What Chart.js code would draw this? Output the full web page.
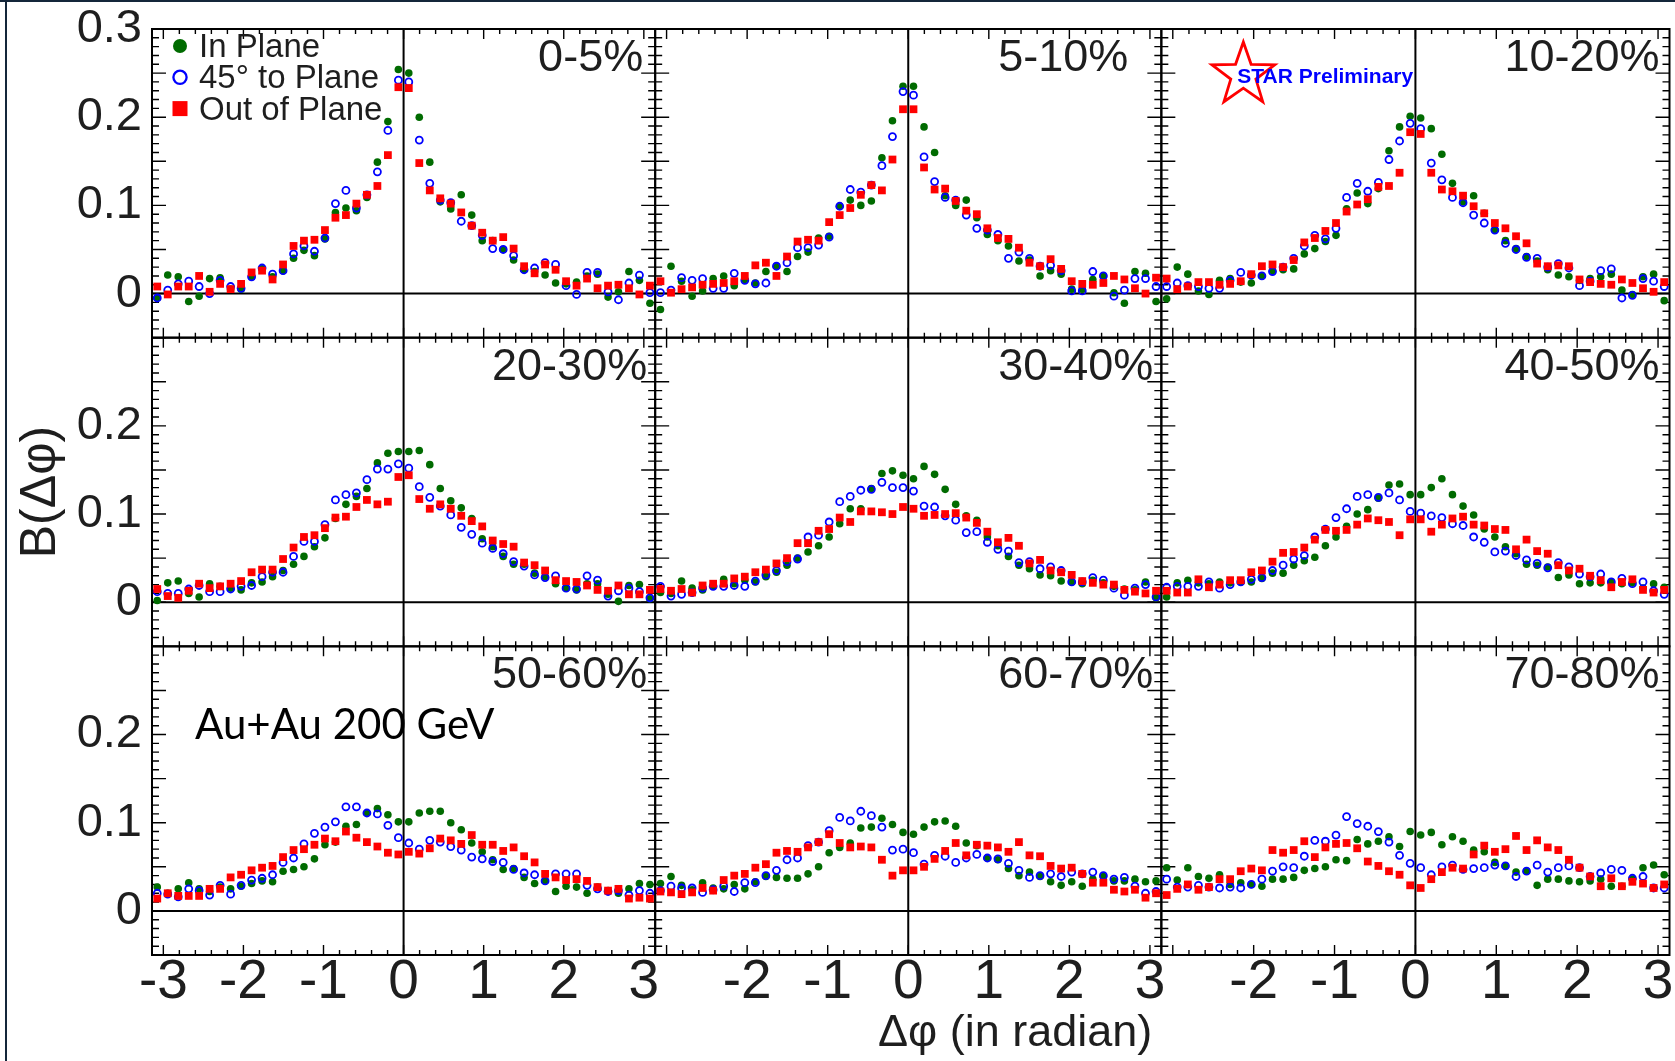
<!DOCTYPE html>
<html>
<head>
<meta charset="utf-8">
<script src="https://cdn.jsdelivr.net/npm/chart.js@4.4.1/dist/chart.umd.min.js"></script>
<style>
html,body{margin:0;padding:0;background:#fff;}
#wrap{position:relative;width:1675px;height:1061px;overflow:hidden;background:#fff;}
#lineTop{position:absolute;left:0;top:0;width:1675px;height:2px;background:#14263a;}
#lineLeft{position:absolute;left:5px;top:0;width:2px;height:1061px;background:#14263a;}
#c{position:absolute;left:0;top:0;}
</style>
</head>
<body>
<div id="wrap"><div id="lineTop"></div><div id="lineLeft"></div><canvas id="c" width="1675" height="1061"></canvas></div>
<script>
// ---------------- DATA ----------------
// Δφ bin centres (48 bins over [-π, π])
const dphi = [-3.076,-2.945,-2.814,-2.683,-2.553,-2.422,-2.291,-2.160,-2.029,-1.898,-1.767,-1.636,-1.505,-1.374,-1.244,-1.113,-0.982,-0.851,-0.720,-0.589,-0.458,-0.327,-0.196,-0.065,
               0.065,0.196,0.327,0.458,0.589,0.720,0.851,0.982,1.113,1.244,1.374,1.505,1.636,1.767,1.898,2.029,2.160,2.291,2.422,2.553,2.683,2.814,2.945,3.076];

const centralityLabels = ['0-5%','5-10%','10-20%','20-30%','30-40%','40-50%','50-60%','60-70%','70-80%'];
const seriesNames = ['In Plane','45\u00b0 to Plane','Out of Plane'];

const xTickValues = [[-3,-2,-1,0,1,2,3],[-2,-1,0,1,2,3],[-2,-1,0,1,2,3]];
const yTickValues = [[0,0.1,0.2,0.3],[0,0.1,0.2],[0,0.1,0.2]];

const inPlane_0_5 = [-0.005,0.021,0.019,-0.009,-0.003,0.017,0.018,0.005,0.005,0.019,0.028,0.019,0.026,0.040,0.049,0.043,0.062,0.092,0.097,0.094,0.109,0.149,0.195,0.254,
  0.250,0.200,0.149,0.104,0.096,0.112,0.089,0.060,0.060,0.050,0.038,0.027,0.025,0.021,0.012,0.011,0.013,0.020,0.022,-0.004,0.002,0.025,0.015,-0.011];
const deg45_0_5 = [-0.005,0.004,0.011,0.014,0.008,0.000,0.015,0.008,0.006,0.019,0.029,0.022,0.026,0.045,0.054,0.048,0.063,0.102,0.117,0.097,0.112,0.138,0.185,0.242,
  0.240,0.174,0.125,0.106,0.103,0.082,0.077,0.066,0.051,0.050,0.043,0.027,0.029,0.035,0.033,0.009,-0.001,0.024,0.024,0.002,-0.007,0.012,0.021,0.001];
const outPlane_0_5 = [0.008,-0.001,0.008,0.008,0.020,0.002,0.011,0.005,0.011,0.024,0.026,0.016,0.033,0.054,0.060,0.061,0.072,0.086,0.089,0.102,0.112,0.122,0.157,0.234,
  0.233,0.148,0.117,0.108,0.102,0.092,0.077,0.069,0.060,0.064,0.051,0.031,0.023,0.033,0.027,0.014,0.009,0.017,0.006,0.009,0.010,0.006,-0.001,0.009];

const inPlane_5_10 = [-0.018,0.031,0.014,-0.003,0.003,0.017,0.020,0.009,0.016,0.012,0.025,0.031,0.025,0.042,0.047,0.063,0.065,0.099,0.106,0.100,0.105,0.154,0.196,0.235,
  0.235,0.189,0.160,0.111,0.100,0.106,0.086,0.067,0.060,0.054,0.037,0.038,0.020,0.026,0.022,0.005,0.005,0.016,0.020,0.001,-0.011,0.025,0.023,-0.009];
const deg45_5_10 = [0.001,0.004,0.018,0.015,0.017,0.006,0.006,0.023,0.015,0.011,0.012,0.031,0.035,0.052,0.052,0.055,0.064,0.099,0.118,0.115,0.123,0.145,0.178,0.229,
  0.225,0.155,0.127,0.109,0.106,0.089,0.074,0.072,0.067,0.040,0.047,0.040,0.031,0.032,0.026,0.003,0.003,0.025,0.020,-0.003,0.004,0.017,0.017,0.008];
const outPlane_5_10 = [0.014,0.001,0.005,0.007,0.010,0.011,0.012,0.014,0.020,0.032,0.035,0.020,0.042,0.059,0.061,0.060,0.081,0.089,0.097,0.112,0.123,0.117,0.152,0.209,
  0.209,0.143,0.118,0.119,0.105,0.094,0.090,0.074,0.063,0.062,0.052,0.035,0.031,0.039,0.028,0.014,0.011,0.010,0.012,0.020,0.016,0.006,0.000,0.018];

const inPlane_10_20 = [-0.006,0.030,0.022,0.003,-0.001,0.015,0.017,0.013,0.012,0.020,0.026,0.027,0.028,0.045,0.051,0.059,0.066,0.096,0.114,0.102,0.119,0.162,0.189,0.201,
  0.199,0.187,0.158,0.125,0.104,0.111,0.091,0.072,0.060,0.051,0.042,0.037,0.027,0.021,0.019,0.015,0.017,0.019,0.022,0.004,-0.001,0.019,0.022,-0.008];
const deg45_10_20 = [0.008,0.012,0.009,0.008,0.006,0.006,0.015,0.024,0.021,0.020,0.025,0.030,0.040,0.054,0.066,0.062,0.074,0.109,0.125,0.116,0.126,0.152,0.173,0.193,
  0.187,0.148,0.129,0.109,0.103,0.089,0.080,0.072,0.057,0.050,0.041,0.040,0.030,0.034,0.029,0.009,0.014,0.026,0.028,-0.005,-0.002,0.017,0.014,0.008];
const outPlane_10_20 = [0.017,0.005,0.008,0.013,0.013,0.010,0.011,0.014,0.022,0.031,0.033,0.030,0.038,0.058,0.063,0.071,0.080,0.093,0.101,0.107,0.121,0.122,0.137,0.183,
  0.181,0.137,0.118,0.116,0.111,0.099,0.091,0.080,0.074,0.065,0.057,0.034,0.031,0.032,0.031,0.016,0.013,0.011,0.010,0.016,0.012,0.006,0.002,0.013];

const inPlane_20_30 = [0.002,0.022,0.024,0.010,0.006,0.021,0.018,0.016,0.014,0.022,0.023,0.029,0.036,0.043,0.052,0.063,0.073,0.095,0.111,0.120,0.129,0.158,0.169,0.171,
  0.171,0.172,0.156,0.129,0.115,0.107,0.095,0.072,0.063,0.052,0.043,0.043,0.033,0.029,0.021,0.016,0.014,0.021,0.021,0.009,0.001,0.019,0.020,0.004];
const deg45_20_30 = [0.012,0.010,0.010,0.015,0.019,0.012,0.012,0.015,0.018,0.019,0.029,0.034,0.034,0.052,0.069,0.069,0.088,0.116,0.122,0.124,0.139,0.151,0.151,0.157,
  0.152,0.131,0.119,0.109,0.099,0.085,0.077,0.067,0.061,0.055,0.046,0.041,0.031,0.028,0.030,0.016,0.015,0.030,0.025,0.007,0.013,0.016,0.012,0.005];
const outPlane_20_30 = [0.015,0.007,0.005,0.013,0.021,0.016,0.018,0.021,0.024,0.034,0.037,0.037,0.049,0.062,0.074,0.076,0.084,0.096,0.097,0.108,0.116,0.111,0.114,0.142,
  0.144,0.117,0.106,0.111,0.106,0.098,0.092,0.086,0.070,0.066,0.063,0.045,0.042,0.036,0.025,0.024,0.023,0.019,0.014,0.013,0.019,0.009,0.009,0.014];

const inPlane_30_40 = [0.011,0.010,0.024,0.016,0.014,0.019,0.026,0.021,0.025,0.023,0.029,0.034,0.042,0.050,0.057,0.064,0.074,0.089,0.106,0.106,0.129,0.146,0.149,0.144,
  0.140,0.154,0.145,0.128,0.111,0.098,0.093,0.074,0.064,0.052,0.042,0.038,0.031,0.030,0.024,0.023,0.021,0.025,0.022,0.018,0.015,0.014,0.023,0.005];
const deg45_30_40 = [0.018,0.007,0.009,0.011,0.016,0.018,0.018,0.019,0.018,0.024,0.031,0.036,0.046,0.049,0.074,0.076,0.091,0.114,0.120,0.127,0.128,0.136,0.130,0.130,
  0.126,0.109,0.108,0.098,0.093,0.079,0.080,0.068,0.060,0.058,0.045,0.046,0.038,0.040,0.036,0.023,0.023,0.028,0.025,0.016,0.008,0.016,0.020,0.006];
const outPlane_30_40 = [0.015,0.013,0.015,0.011,0.019,0.021,0.021,0.027,0.029,0.034,0.037,0.044,0.050,0.067,0.067,0.081,0.083,0.096,0.091,0.103,0.103,0.102,0.100,0.108,
  0.106,0.098,0.099,0.100,0.101,0.096,0.090,0.080,0.068,0.073,0.064,0.044,0.048,0.036,0.034,0.031,0.024,0.022,0.020,0.020,0.014,0.012,0.010,0.013];

const inPlane_40_50 = [0.006,0.022,0.025,0.022,0.021,0.023,0.022,0.023,0.023,0.027,0.033,0.033,0.042,0.047,0.051,0.064,0.074,0.086,0.100,0.105,0.118,0.133,0.134,0.122,
  0.122,0.130,0.140,0.122,0.109,0.099,0.083,0.074,0.063,0.055,0.043,0.042,0.040,0.028,0.031,0.021,0.022,0.022,0.023,0.021,0.022,0.016,0.021,0.017];
const deg45_40_50 = [0.017,0.018,0.018,0.018,0.023,0.016,0.020,0.023,0.026,0.028,0.036,0.042,0.049,0.053,0.074,0.083,0.096,0.106,0.120,0.122,0.119,0.124,0.116,0.103,
  0.101,0.098,0.096,0.089,0.087,0.074,0.068,0.057,0.058,0.053,0.048,0.044,0.039,0.045,0.040,0.032,0.029,0.032,0.023,0.027,0.021,0.023,0.013,0.009];
const outPlane_40_50 = [0.013,0.011,0.011,0.026,0.017,0.020,0.025,0.025,0.034,0.036,0.046,0.056,0.057,0.062,0.071,0.082,0.081,0.082,0.088,0.095,0.093,0.091,0.076,0.094,
  0.094,0.080,0.088,0.095,0.097,0.088,0.087,0.083,0.082,0.060,0.071,0.058,0.055,0.042,0.036,0.038,0.030,0.025,0.017,0.023,0.026,0.014,0.011,0.014];

const inPlane_50_60 = [0.027,0.020,0.025,0.032,0.025,0.022,0.027,0.025,0.028,0.031,0.034,0.033,0.045,0.047,0.050,0.059,0.075,0.078,0.096,0.098,0.111,0.116,0.109,0.101,
  0.101,0.111,0.113,0.113,0.100,0.092,0.077,0.067,0.058,0.047,0.048,0.038,0.031,0.034,0.022,0.028,0.027,0.020,0.027,0.023,0.020,0.025,0.031,0.030];
const deg45_50_60 = [0.020,0.019,0.016,0.025,0.023,0.018,0.029,0.019,0.029,0.035,0.037,0.041,0.055,0.060,0.076,0.088,0.095,0.101,0.118,0.118,0.111,0.110,0.097,0.083,
  0.077,0.070,0.080,0.078,0.073,0.069,0.061,0.059,0.056,0.055,0.047,0.043,0.041,0.034,0.042,0.042,0.042,0.029,0.025,0.022,0.023,0.018,0.023,0.020];
const outPlane_50_60 = [0.014,0.020,0.017,0.017,0.017,0.025,0.025,0.038,0.041,0.046,0.049,0.051,0.061,0.069,0.070,0.075,0.082,0.079,0.090,0.083,0.078,0.073,0.066,0.064,
  0.067,0.065,0.071,0.082,0.080,0.076,0.086,0.075,0.075,0.068,0.072,0.062,0.055,0.042,0.038,0.035,0.036,0.034,0.027,0.023,0.025,0.014,0.015,0.014];

const inPlane_60_70 = [0.031,0.039,0.029,0.024,0.032,0.026,0.025,0.030,0.025,0.033,0.039,0.038,0.037,0.037,0.042,0.050,0.066,0.072,0.077,0.094,0.095,0.105,0.098,0.089,
  0.087,0.095,0.101,0.102,0.096,0.077,0.074,0.060,0.058,0.048,0.040,0.044,0.039,0.033,0.029,0.033,0.028,0.036,0.039,0.034,0.034,0.036,0.033,0.034];
const deg45_60_70 = [0.023,0.028,0.026,0.026,0.021,0.024,0.028,0.022,0.032,0.032,0.040,0.046,0.058,0.060,0.074,0.078,0.091,0.106,0.102,0.113,0.108,0.095,0.069,0.070,
  0.066,0.053,0.063,0.062,0.055,0.060,0.064,0.060,0.059,0.054,0.046,0.038,0.040,0.042,0.039,0.044,0.042,0.044,0.040,0.036,0.038,0.028,0.020,0.022];
const outPlane_60_70 = [0.022,0.021,0.019,0.021,0.026,0.023,0.035,0.040,0.042,0.049,0.053,0.066,0.068,0.067,0.072,0.078,0.087,0.077,0.072,0.073,0.072,0.058,0.040,0.046,
  0.046,0.050,0.059,0.068,0.077,0.063,0.075,0.074,0.072,0.067,0.078,0.063,0.062,0.051,0.048,0.049,0.042,0.032,0.032,0.024,0.022,0.024,0.015,0.020];

const inPlane_70_80 = [0.049,0.035,0.049,0.039,0.037,0.041,0.030,0.032,0.030,0.028,0.036,0.036,0.038,0.046,0.048,0.050,0.058,0.057,0.081,0.076,0.079,0.084,0.073,0.090,
  0.086,0.089,0.075,0.084,0.079,0.069,0.067,0.055,0.051,0.044,0.045,0.029,0.036,0.036,0.034,0.033,0.034,0.036,0.028,0.028,0.036,0.049,0.052,0.041];
const deg45_70_80 = [0.036,0.027,0.027,0.029,0.027,0.026,0.027,0.026,0.030,0.036,0.045,0.050,0.049,0.062,0.080,0.079,0.086,0.107,0.099,0.096,0.090,0.078,0.063,0.054,
  0.049,0.041,0.050,0.052,0.047,0.048,0.049,0.052,0.051,0.039,0.045,0.052,0.044,0.049,0.051,0.049,0.039,0.043,0.047,0.046,0.037,0.039,0.026,0.026];
const outPlane_70_80 = [0.018,0.025,0.030,0.024,0.027,0.036,0.036,0.045,0.048,0.046,0.069,0.066,0.069,0.079,0.061,0.072,0.076,0.077,0.071,0.056,0.051,0.045,0.041,0.029,
  0.026,0.036,0.044,0.049,0.048,0.064,0.074,0.067,0.070,0.085,0.069,0.080,0.072,0.069,0.058,0.049,0.039,0.028,0.037,0.028,0.033,0.031,0.026,0.030];

// ---------------- TABLE built from the arrays ----------------
const panelSeries = [
  [inPlane_0_5,   deg45_0_5,   outPlane_0_5],
  [inPlane_5_10,  deg45_5_10,  outPlane_5_10],
  [inPlane_10_20, deg45_10_20, outPlane_10_20],
  [inPlane_20_30, deg45_20_30, outPlane_20_30],
  [inPlane_30_40, deg45_30_40, outPlane_30_40],
  [inPlane_40_50, deg45_40_50, outPlane_40_50],
  [inPlane_50_60, deg45_50_60, outPlane_50_60],
  [inPlane_60_70, deg45_60_70, outPlane_60_70],
  [inPlane_70_80, deg45_70_80, outPlane_70_80]
];

// ---------------- STYLE / LAYOUT ----------------
const FONT = "'Liberation Sans', Arial, Helvetica, sans-serif";
const TEXT = '#1e1e1e';
const GREEN = '#006b00', BLUE = '#0000ff', RED = '#ff0000';
const seriesStyle = [
  {pointStyle: 'circle', radius: 3.8, bg: GREEN, border: GREEN, bw: 0, order: 3},
  {pointStyle: 'circle', radius: 3.5, bg: 'rgba(0,0,0,0)', border: BLUE, bw: 1.8, order: 2},
  {pointStyle: 'rect',   radius: 5.5, bg: RED, border: RED, bw: 0, order: 1}
];
const colWeights = [504, 507, 509];
const labelInset = [12, 33, 10, 8, 8, 10, 8, 8, 10];

const datasets = [];
panelSeries.forEach((trip, k) => {
  const r = Math.floor(k / 3), c = k % 3;
  trip.forEach((vals, s) => {
    const st = seriesStyle[s];
    datasets.push({
      label: seriesNames[s] + ' (' + centralityLabels[k] + ')',
      data: vals.map((v, i) => ({x: dphi[i], y: v})),
      xAxisID: 'x' + c, yAxisID: 'y' + r,
      pointStyle: st.pointStyle, pointRadius: st.radius, pointHoverRadius: st.radius,
      pointBackgroundColor: st.bg, pointBorderColor: st.border, pointBorderWidth: st.bw,
      showLine: false, clip: false, order: st.order
    });
  });
});

function xScale(c) {
  return {
    type: 'linear', position: 'bottom', stack: 'cols', stackWeight: colWeights[c],
    min: -Math.PI, max: Math.PI,
    grid: {display: false, drawTicks: false}, border: {display: false},
    ticks: {autoSkip: false, maxRotation: 0, minRotation: 0, padding: 0, color: TEXT,
            font: {family: FONT, size: 55, lineHeight: 1}, callback: v => String(v)},
    afterBuildTicks: s => { s.ticks = xTickValues[c].map(v => ({value: v})); },
    afterFit: s => { s.height = 106; s.paddingLeft = 0; s.paddingRight = 0; },
    title: c === 1 ? {display: true, text: '\u0394\u03c6 (in radian)\u2009', align: 'end', color: TEXT,
                      font: {family: FONT, size: 45, lineHeight: 1.2}, padding: {top: 0, bottom: 0}}
                   : {display: false}
  };
}
function yScale(r) {
  return {
    type: 'linear', position: 'left', stack: 'rows', stackWeight: 1, weight: 3 - r,
    min: -0.05, max: 0.3,
    grid: {display: false, drawTicks: false}, border: {display: false},
    ticks: {autoSkip: false, padding: 10, color: TEXT, font: {family: FONT, size: 47, lineHeight: 1},
            callback: v => String(v)},
    afterBuildTicks: s => { s.ticks = yTickValues[r].map(v => ({value: v})); },
    afterFit: s => { s.width = 152; s.paddingTop = 0; s.paddingBottom = 0; },
    title: r === 1 ? {display: true, text: 'B(\u0394\u03c6)', color: TEXT,
                      font: {family: FONT, size: 50, lineHeight: 1.2}, padding: {top: 11, bottom: 0}}
                   : {display: false}
  };
}

// frame, zero lines and inward ROOT-style ticks for every panel
const frameTicks = {
  id: 'frameTicks',
  beforeDatasetsDraw(chart) {
    const ctx = chart.ctx;
    ctx.save();
    ctx.strokeStyle = '#000';
    for (let r = 0; r < 3; r++) for (let c = 0; c < 3; c++) {
      const xs = chart.scales['x' + c], ys = chart.scales['y' + r];
      const L = xs.left, R = xs.right, T = ys.top, B = ys.bottom;
      ctx.lineWidth = 1.4;
      ctx.beginPath();
      for (let k = -5; k <= 30; k++) {
        const y = ys.getPixelForValue(k / 100);
        const len = (k % 5 === 0) ? 14 : 7;
        ctx.moveTo(L, y); ctx.lineTo(L + len, y);
        ctx.moveTo(R, y); ctx.lineTo(R - len, y);
      }
      for (let k = -15; k <= 15; k++) {
        const x = xs.getPixelForValue(k / 5);
        const len = (k % 5 === 0) ? 10 : 5;
        ctx.moveTo(x, B); ctx.lineTo(x, B - len);
        ctx.moveTo(x, T); ctx.lineTo(x, T + len);
      }
      ctx.stroke();
      ctx.lineWidth = 2;
      ctx.strokeRect(L, T, R - L, B - T);
      const x0 = xs.getPixelForValue(0), y0 = ys.getPixelForValue(0);
      ctx.beginPath();
      ctx.moveTo(x0, T); ctx.lineTo(x0, B);
      ctx.moveTo(L, y0); ctx.lineTo(R, y0);
      ctx.stroke();
    }
    ctx.restore();
  }
};

// panel labels, legend, STAR logo, system label
const annotations = {
  id: 'annotations',
  afterDatasetsDraw(chart) {
    const ctx = chart.ctx;
    ctx.save();
    // centrality labels
    ctx.fillStyle = TEXT;
    ctx.font = '45px ' + FONT;
    ctx.textAlign = 'right';
    ctx.textBaseline = 'alphabetic';
    centralityLabels.forEach((t, k) => {
      const r = Math.floor(k / 3), c = k % 3;
      const xs = chart.scales['x' + c], ys = chart.scales['y' + r];
      ctx.fillText(t, xs.right - labelInset[k], ys.top + 42);
    });
    // legend in the first panel
    const L0 = chart.scales.x0.left, T0 = chart.scales.y0.top;
    ctx.textAlign = 'left';
    ctx.font = '33px ' + FONT;
    seriesNames.forEach((name, s) => {
      const base = T0 + 28 + s * 31.3;
      const mx = L0 + 28, my = base - 11;
      const st = seriesStyle[s];
      ctx.beginPath();
      if (s === 0) {
        ctx.fillStyle = st.bg; ctx.arc(mx, my, 7, 0, Math.PI * 2); ctx.fill();
      } else if (s === 1) {
        ctx.strokeStyle = st.border; ctx.lineWidth = 2.3; ctx.arc(mx, my, 6.6, 0, Math.PI * 2); ctx.stroke();
      } else {
        ctx.fillStyle = st.bg; ctx.fillRect(mx - 7.5, my - 7.5, 15, 15);
      }
      ctx.fillStyle = TEXT;
      ctx.fillText(name, L0 + 47, base);
    });
    // STAR Preliminary logo in third panel
    const L2 = chart.scales.x2.left;
    const cx = L2 + 82, cy = T0 + 46, R = 33, ri = R * 0.40;
    ctx.beginPath();
    for (let k = 0; k < 10; k++) {
      const a = -Math.PI / 2 + k * Math.PI / 5;
      const rr = (k % 2 === 0) ? R : ri;
      const px = cx + rr * Math.cos(a), py = cy + rr * Math.sin(a);
      if (k === 0) ctx.moveTo(px, py); else ctx.lineTo(px, py);
    }
    ctx.closePath();
    ctx.strokeStyle = RED; ctx.lineWidth = 2.8; ctx.stroke();
    ctx.fillStyle = BLUE;
    ctx.font = 'bold 21px ' + FONT;
    ctx.fillText('STAR Preliminary', L2 + 76, T0 + 54);
    // collision system label
    const T2 = chart.scales.y2.top;
    ctx.fillStyle = '#000';
    ctx.font = "42px Lato, 'Open Sans', sans-serif";
    ctx.fillText('Au+Au 200 GeV', L0 + 43, T2 + 93);
    ctx.restore();
  }
};

Chart.defaults.font.family = FONT;
const scales = {};
for (let c = 0; c < 3; c++) scales['x' + c] = xScale(c);
for (let r = 0; r < 3; r++) scales['y' + r] = yScale(r);

new Chart(document.getElementById('c'), {
  type: 'scatter',
  data: {datasets},
  options: {
    responsive: false, animation: false, devicePixelRatio: 1,
    layout: {padding: {left: 0, top: 29, right: 3, bottom: 0}},
    plugins: {legend: {display: false}, tooltip: {enabled: false}, title: {display: false}},
    scales
  },
  plugins: [frameTicks, annotations]
});
</script>
</body>
</html>
